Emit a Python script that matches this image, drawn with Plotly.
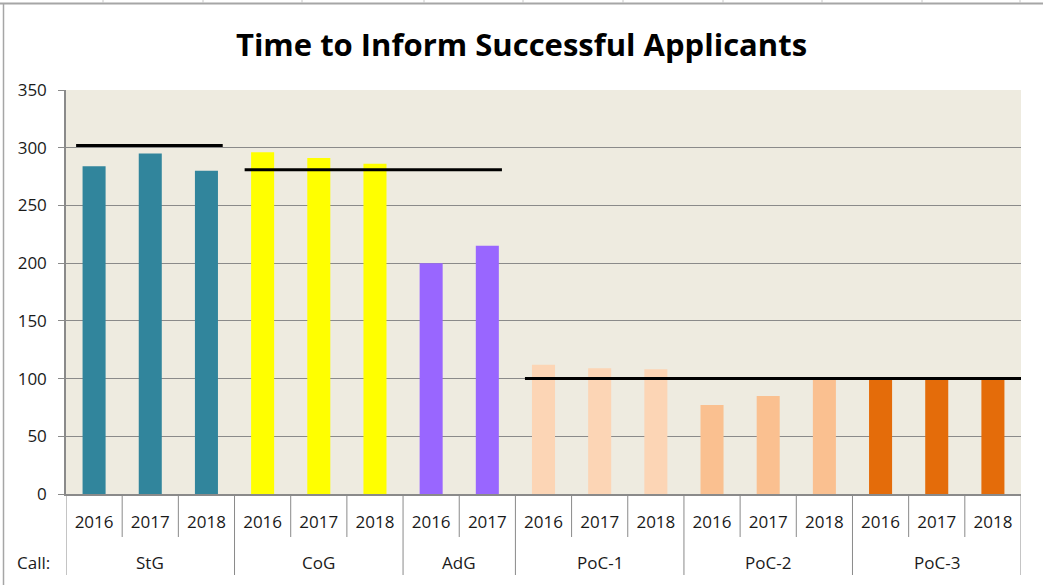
import plotly.graph_objects as go

groups = ["StG", "CoG", "AdG", "PoC-1", "PoC-2", "PoC-3"]
group_years = [["2016", "2017", "2018"], ["2016", "2017", "2018"], ["2016", "2017"],
               ["2016", "2017", "2018"], ["2016", "2017", "2018"], ["2016", "2017", "2018"]]
group_values = [[284, 295, 280], [296, 291, 286], [200, 215],
                [112, 109, 108], [77, 85, 100], [100, 100, 100]]
group_colors = ["#31859C", "#FFFF00", "#9966FF", "#FCD5B5", "#FAC090", "#E46C0A"]

# target lines: (start position, end position, value) on the category index scale
target_start = [-0.32, 2.68, 7.67]
target_end = [2.29, 7.26, 16.5]
target_value = [302, 281, 100]

font_family = "Open Sans, Lato, sans-serif"
text_col = "#1a1a1a"
grid_col = "#8A8A8A"

W, H = 1043, 585
L, R, T, B = 66, 22, 90, 91
pw, ph = W - L - R, H - T - B


def px_x(x):
    return (x - L) / pw


def px_y(y):
    return (H - B - y) / ph


fig = go.Figure()

pos = 0
tickvals, ticktext = [], []
group_bounds = [-0.5]
group_centers = []
for g, yrs, vals, col in zip(groups, group_years, group_values, group_colors):
    xs = list(range(pos, pos + len(yrs)))
    fig.add_trace(go.Bar(x=xs, y=vals, name=g, marker=dict(color=col, line=dict(width=0)),
                         width=0.41, showlegend=False,
                         hovertemplate=g + " %{customdata}: %{y}<extra></extra>", customdata=yrs))
    tickvals += xs
    ticktext += yrs
    group_centers.append((xs[0] + xs[-1]) / 2)
    pos += len(yrs)
    group_bounds.append(pos - 0.5)

for s, e, v in zip(target_start, target_end, target_value):
    fig.add_trace(go.Scatter(x=[s, e], y=[v, v], mode="lines",
                             line=dict(color="black", width=3), showlegend=False, hoverinfo="skip"))

shapes = []
# short dividers between years
for i in range(pos - 1):
    b = i + 0.5
    if b in group_bounds:
        continue
    shapes.append(dict(type="line", xref="x", yref="paper", x0=b, x1=b,
                       y0=0, y1=px_y(537), line=dict(color=grid_col, width=1)))
# long dividers between groups
for b in group_bounds:
    shapes.append(dict(type="line", xref="x", yref="paper", x0=b, x1=b,
                       y0=0, y1=px_y(575), line=dict(color=grid_col, width=1)))
# spreadsheet frame around the chart object
shapes.append(dict(type="line", xref="paper", yref="paper", x0=px_x(0), x1=px_x(W),
                   y0=px_y(3.5), y1=px_y(3.5), line=dict(color="#A6A6A6", width=2)))
shapes.append(dict(type="line", xref="paper", yref="paper", x0=px_x(3.5), x1=px_x(3.5),
                   y0=px_y(3), y1=px_y(H), line=dict(color="#A6A6A6", width=1.5)))
for sx in [103, 203, 302, 424, 523, 623, 723, 822, 922, 1020]:
    shapes.append(dict(type="line", xref="paper", yref="paper", x0=px_x(sx), x1=px_x(sx),
                       y0=px_y(0), y1=px_y(3), line=dict(color="#C8C8C8", width=1)))

annotations = [dict(text="Call:", x=px_x(33), y=px_y(562), xref="paper", yref="paper",
                    xanchor="center", yanchor="middle", showarrow=False,
                    font=dict(size=17, color=text_col))]
for g, c in zip(groups, group_centers):
    annotations.append(dict(text=g, x=c, y=px_y(562), xref="x", yref="paper",
                            xanchor="center", yanchor="middle", showarrow=False,
                            font=dict(size=17, color=text_col)))

fig.update_layout(
    width=W, height=H,
    margin=dict(l=L, r=R, t=T, b=B, autoexpand=False),
    paper_bgcolor="white", plot_bgcolor="#EEEBE0",
    title=dict(text="<b>Time to Inform Successful Applicants</b>", x=0.5, xanchor="center",
               y=px_y(45) * ph / H + B / H, yanchor="middle",
               font=dict(size=31, color="black", family=font_family)),
    font=dict(family=font_family, size=17, color=text_col),
    barmode="overlay",
    xaxis=dict(range=[-0.5, pos - 0.5], tickvals=tickvals, ticktext=ticktext,
               showline=True, linecolor=grid_col, linewidth=1.5, ticks="",
               ticklabelstandoff=12, tickfont=dict(size=17, color=text_col),
               showgrid=False, zeroline=False, fixedrange=True),
    yaxis=dict(range=[0, 350], dtick=50, showgrid=True, gridcolor=grid_col, gridwidth=1,
               showline=True, linecolor=grid_col, linewidth=1.5, ticks="outside", ticklen=6,
               tickcolor=grid_col, tickfont=dict(size=17, color=text_col),
               ticklabelstandoff=8, zeroline=False, fixedrange=True),
    shapes=shapes,
    annotations=annotations,
)

fig.write_html("out.html", config={"displayModeBar": False},
               post_script="document.body.style.margin='0';")
